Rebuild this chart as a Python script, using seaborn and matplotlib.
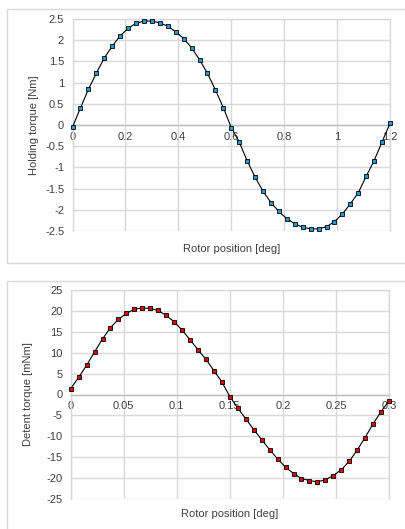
import matplotlib
matplotlib.use("Agg")
import matplotlib.pyplot as plt
from matplotlib.patches import Rectangle
import numpy as np
import pandas as pd
import seaborn as sns

# holding torque, 41 samples over 0..1.2 deg
holding_pos = [round(0.03 * i, 2) for i in range(41)]
holding_nm = [
    -0.05, 0.40, 0.84, 1.22, 1.58, 1.86, 2.10, 2.28, 2.40, 2.45,
    2.45, 2.41, 2.33, 2.20, 2.04, 1.82, 1.54, 1.22, 0.83, 0.41,
    -0.06, -0.40, -0.84, -1.23, -1.56, -1.83, -2.04, -2.21, -2.33, -2.41,
    -2.45, -2.45, -2.40, -2.28, -2.10, -1.86, -1.60, -1.21, -0.84, -0.40,
    0.04,
]

# detent torque, 41 samples over 0..0.3 deg
detent_pos = [round(0.0075 * i, 4) for i in range(41)]
detent_mnm = [
    1.4, 4.1, 7.0, 10.2, 13.3, 16.0, 18.0, 19.4, 20.4, 20.7,
    20.6, 20.1, 18.9, 17.4, 15.4, 13.1, 10.7, 8.4, 5.7, 3.0,
    -0.5, -3.3, -5.8, -8.4, -10.8, -13.2, -15.4, -17.4, -18.9, -20.1,
    -20.6, -20.9, -20.4, -19.4, -18.0, -16.0, -13.3, -10.3, -7.0, -4.1,
    -1.5,
]

holding_xticks = [0, 0.2, 0.4, 0.6, 0.8, 1, 1.2]
holding_yticks = [-2.5, -2, -1.5, -1, -0.5, 0, 0.5, 1, 1.5, 2, 2.5]
detent_xticks = [0, 0.05, 0.1, 0.15, 0.2, 0.25, 0.3]
detent_yticks = [-25, -20, -15, -10, -5, 0, 5, 10, 15, 20, 25]

GRID = "#d9d9d9"
TEXT = "#404040"
FS = 8

sns.set_style("white")
plt.rcParams["font.family"] = ["Liberation Sans", "DejaVu Sans"]


def style_axes(ax, xticks, yticks, xlabel, ylabel, xlab_y, ylab_x):
    ax.set_xlim(xticks[0], xticks[-1])
    ax.set_ylim(yticks[0], yticks[-1])
    ax.set_xticks(xticks)
    ax.set_yticks(yticks)
    ax.set_xticklabels([f"{t:g}" for t in xticks])
    ax.set_yticklabels([f"{t:g}" for t in yticks])
    ax.grid(True, color=GRID, linewidth=1)
    ax.set_axisbelow(True)
    for side in ["left", "top", "right"]:
        ax.spines[side].set_color(GRID)
        ax.spines[side].set_linewidth(1)
    # Excel-style category axis crossing at zero
    ax.spines["bottom"].set_position(("data", 0))
    ax.spines["bottom"].set_color("#bfbfbf")
    ax.spines["bottom"].set_linewidth(1)
    ax.tick_params(axis="both", length=0, labelsize=FS, colors=TEXT)
    ax.tick_params(axis="x", pad=5)
    ax.tick_params(axis="y", pad=6)
    ax.set_xlabel(xlabel, fontsize=FS, color=TEXT)
    ax.set_ylabel(ylabel, fontsize=FS, color=TEXT)
    ax.xaxis.set_label_coords(0.5, xlab_y)
    ax.yaxis.set_label_coords(ylab_x, 0.5)


fig = plt.figure(figsize=(4.05, 5.29), dpi=100)

# panel frames
fig.patches.append(Rectangle((7 / 405, 1 - 263 / 529), 1.0, 254 / 529,
                             transform=fig.transFigure, fill=False,
                             edgecolor=GRID, linewidth=1))
fig.patches.append(Rectangle((7 / 405, -0.05), 1.0, 1 - 281 / 529 + 0.05,
                             transform=fig.transFigure, fill=False,
                             edgecolor=GRID, linewidth=1))

ax1 = fig.add_axes([72.5 / 405, 1 - 231 / 529, 317.5 / 405, 212 / 529])
df1 = pd.DataFrame({"pos": holding_pos, "torque": holding_nm})
sns.lineplot(data=df1, x="pos", y="torque", ax=ax1, color="black",
             linewidth=0.8, marker="s", markersize=3.3,
             markerfacecolor="#1e9ad6", markeredgecolor="black",
             markeredgewidth=0.6, clip_on=False, zorder=4)
style_axes(ax1, holding_xticks, holding_yticks,
           "Rotor position [deg]", "Holding torque [Nm]", -0.06, -0.105)

ax2 = fig.add_axes([70.7 / 405, 1 - 499 / 529, 318.3 / 405, 209 / 529])
df2 = pd.DataFrame({"pos": detent_pos, "torque": detent_mnm})
sns.lineplot(data=df2, x="pos", y="torque", ax=ax2, color="black",
             linewidth=0.8, marker="s", markersize=3.3,
             markerfacecolor="#e00000", markeredgecolor="black",
             markeredgewidth=0.6, clip_on=False, zorder=4)
style_axes(ax2, detent_xticks, detent_yticks,
           "Rotor position [deg]", "Detent torque [mNm]", -0.05, -0.118)

fig.savefig("out.png", dpi=100)
